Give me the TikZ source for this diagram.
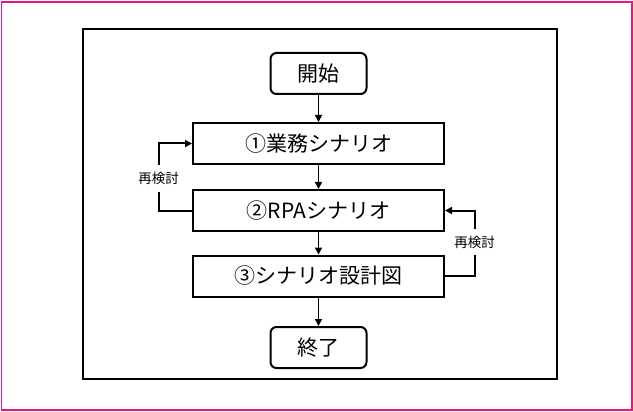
\documentclass[tikz,border=0pt]{standalone}
\usepackage{fontspec}
\setmainfont{Noto Sans CJK JP}
\usetikzlibrary{arrows.meta}
\definecolor{pinkc}{RGB}{238,20,125}
\tikzset{
  procbox/.style={draw, line width=2pt, minimum width=251pt, minimum height=41pt, inner sep=0pt, font=\fontsize{21}{23}\selectfont},
  termbox/.style={draw, line width=2pt, rounded corners=6pt, minimum width=96pt, minimum height=41pt, inner sep=0pt, font=\fontsize{21}{23}\selectfont},
  arr/.style={line width=1.6pt, -{Triangle[length=7pt,width=7pt]}},
  loopline/.style={line width=2pt, -{Triangle[length=7pt,width=7pt]}},
  looplabel/.style={fill=white, inner xsep=1pt, inner ysep=7pt, font=\fontsize{13.5}{15}\selectfont}
}
\begin{document}
\begin{tikzpicture}[x=1pt,y=-1pt]
\useasboundingbox (0,0) rectangle (633,412);
\draw[pinkc, line width=1.5pt] (1.5,2) rectangle (632,410);
\draw[line width=2pt] (83,29) rectangle (557,379);
\node[termbox] (start) at (318.5,73.5) {開始};
\node[procbox] (b1) at (318.5,143.5) {①業務シナリオ};
\node[procbox] (b2) at (318.5,210.5) {②RPAシナリオ};
\node[procbox] (b3) at (318.5,276) {③シナリオ設計図};
\node[termbox] (end) at (318.5,347.5) {終了};
\draw[arr] (start) -- (b1);
\draw[arr] (b1) -- (b2);
\draw[arr] (b2) -- (b3);
\draw[arr] (b3) -- (end);
\coordinate (lc) at (158.5,210.5);
\coordinate (rc) at (474.5,276);
\draw[loopline] (b2.west) -- (lc) |- (b1.west);
\draw[loopline] (b3.east) -- (rc) |- (b2.east);
\node[looplabel] (l1) at (158.5,178.5) {再検討};
\node[looplabel] (l2) at (474.5,242) {再検討};
\end{tikzpicture}
\end{document}
